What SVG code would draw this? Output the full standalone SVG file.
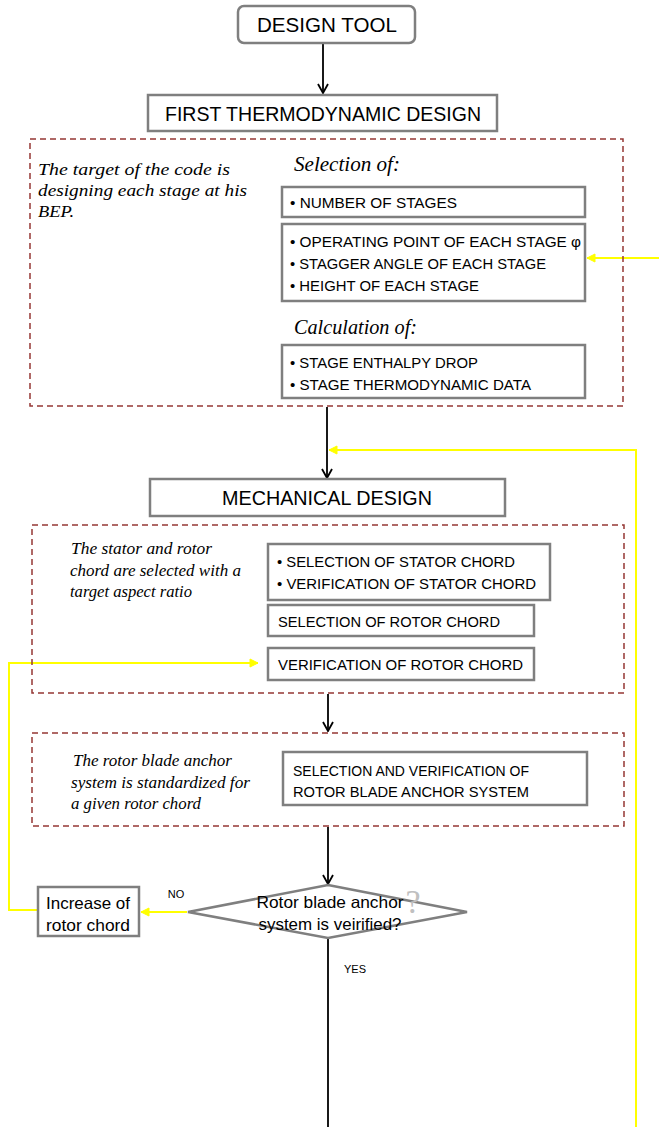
<svg xmlns="http://www.w3.org/2000/svg" width="659" height="1127" viewBox="0 0 659 1127">
<defs>
<style>
.box{fill:#fff;stroke:#7f7f7f;stroke-width:2.5}
.dash{fill:none;stroke:#953735;stroke-width:1.5;stroke-dasharray:6,4}
.t{font-family:"Liberation Sans",Arial,sans-serif;fill:#000}
.it{font-family:"Liberation Serif","Times New Roman",serif;font-style:italic;fill:#000}
.blk{fill:none;stroke:#000;stroke-width:1.8}
.yel{fill:none;stroke:#ffff00;stroke-width:2}
</style>
<marker id="ab" viewBox="0 0 12 12" refX="11" refY="6" markerWidth="12" markerHeight="12" markerUnits="userSpaceOnUse" orient="auto">
<path d="M2,1 L11,6 L2,11" fill="none" stroke="#000" stroke-width="1.8"/>
</marker>
<marker id="ay" viewBox="0 0 10 10" refX="9" refY="5" markerWidth="10" markerHeight="10" markerUnits="userSpaceOnUse" orient="auto">
<path d="M1,1 L9,5 L1,9 Z" fill="#ffff00" stroke="#ffff00" stroke-width="1"/>
</marker>
</defs>
<rect width="659" height="1127" fill="#fff"/>

<g id="connectors">
<line class="blk" x1="323" y1="43" x2="323" y2="93" marker-end="url(#ab)"/>
<line class="blk" x1="327" y1="407" x2="327" y2="478" marker-end="url(#ab)"/>
<line class="blk" x1="328" y1="694" x2="328" y2="731" marker-end="url(#ab)"/>
<line class="blk" x1="328" y1="827" x2="328" y2="884" marker-end="url(#ab)"/>
<line class="blk" x1="328" y1="938" x2="328" y2="1127"/>
<line class="yel" x1="659" y1="258" x2="587" y2="258" marker-end="url(#ay)"/>
<polyline class="yel" points="636,1127 636,450 329,450" marker-end="url(#ay)"/>
<polyline class="yel" points="38,910 9,910 9,663 258,663" marker-end="url(#ay)"/>
<line class="yel" x1="187" y1="912" x2="141" y2="912" marker-end="url(#ay)"/>
</g>

<g id="design-tool">
<rect class="box" x="238" y="6" width="177" height="37" rx="6"/>
<text class="t" x="327" y="32" font-size="21" text-anchor="middle" textLength="140" lengthAdjust="spacingAndGlyphs">DESIGN TOOL</text>
</g>

<g id="first-thermo">
<rect class="box" x="148" y="95" width="349" height="36"/>
<text class="t" x="323" y="121" font-size="21" text-anchor="middle" textLength="316" lengthAdjust="spacingAndGlyphs">FIRST THERMODYNAMIC DESIGN</text>
</g>

<g id="thermo-group">
<rect class="dash" x="30" y="139" width="593" height="267"/>
<text class="it" font-size="17.5"><tspan x="38" y="175" textLength="192" lengthAdjust="spacingAndGlyphs">The target of the code is</tspan><tspan x="38" y="196" textLength="209" lengthAdjust="spacingAndGlyphs">designing each stage at his</tspan><tspan x="38" y="217" textLength="36" lengthAdjust="spacingAndGlyphs">BEP.</tspan></text>
<text class="it" x="294" y="171" font-size="22" textLength="106" lengthAdjust="spacingAndGlyphs">Selection of:</text>
<text class="it" x="294" y="334" font-size="22" textLength="123" lengthAdjust="spacingAndGlyphs">Calculation of:</text>
</g>

<g id="num-stages">
<rect class="box" x="282" y="187" width="303" height="30"/>
<text class="t" x="290" y="208" font-size="15.5" textLength="167" lengthAdjust="spacingAndGlyphs">• NUMBER OF STAGES</text>
</g>

<g id="operating">
<rect class="box" x="282" y="224" width="303" height="77"/>
<text class="t" font-size="15.5"><tspan x="290" y="247" textLength="291" lengthAdjust="spacingAndGlyphs">• OPERATING POINT OF EACH STAGE φ</tspan><tspan x="290" y="269" textLength="256" lengthAdjust="spacingAndGlyphs">• STAGGER ANGLE OF EACH STAGE</tspan><tspan x="290" y="291" textLength="189" lengthAdjust="spacingAndGlyphs">• HEIGHT OF EACH STAGE</tspan></text>
</g>

<g id="calc">
<rect class="box" x="282" y="345" width="303" height="53"/>
<text class="t" font-size="15.5"><tspan x="290" y="368" textLength="188" lengthAdjust="spacingAndGlyphs">• STAGE ENTHALPY DROP</tspan><tspan x="290" y="390" textLength="241" lengthAdjust="spacingAndGlyphs">• STAGE THERMODYNAMIC DATA</tspan></text>
</g>

<g id="mechanical">
<rect class="box" x="150" y="479" width="355" height="37"/>
<text class="t" x="327" y="505" font-size="21" text-anchor="middle" textLength="210" lengthAdjust="spacingAndGlyphs">MECHANICAL DESIGN</text>
</g>

<g id="mech-group">
<rect class="dash" x="32" y="525" width="592" height="168"/>
<text class="it" font-size="17"><tspan x="71" y="554" textLength="141" lengthAdjust="spacingAndGlyphs">The stator and rotor</tspan><tspan x="70" y="576" textLength="171" lengthAdjust="spacingAndGlyphs">chord are selected with a</tspan><tspan x="70" y="597" textLength="122" lengthAdjust="spacingAndGlyphs">target aspect ratio</tspan></text>
</g>

<g id="stator">
<rect class="box" x="268" y="544" width="282" height="56"/>
<text class="t" font-size="15.5"><tspan x="277" y="567" textLength="238" lengthAdjust="spacingAndGlyphs">• SELECTION OF STATOR CHORD</tspan><tspan x="277" y="589" textLength="259" lengthAdjust="spacingAndGlyphs">• VERIFICATION OF STATOR CHORD</tspan></text>
</g>

<g id="sel-rotor">
<rect class="box" x="268" y="605" width="266" height="31"/>
<text class="t" x="278" y="627" font-size="15.5" textLength="222" lengthAdjust="spacingAndGlyphs">SELECTION OF ROTOR CHORD</text>
</g>

<g id="ver-rotor">
<rect class="box" x="268" y="648" width="266" height="32"/>
<text class="t" x="278" y="670" font-size="15.5" textLength="245" lengthAdjust="spacingAndGlyphs">VERIFICATION OF ROTOR CHORD</text>
</g>

<g id="anchor-group">
<rect class="dash" x="32" y="733" width="592" height="93"/>
<text class="it" font-size="17"><tspan x="73" y="766" textLength="159" lengthAdjust="spacingAndGlyphs">The rotor blade anchor</tspan><tspan x="71" y="788" textLength="179" lengthAdjust="spacingAndGlyphs">system is standardized for</tspan><tspan x="71" y="809" textLength="130" lengthAdjust="spacingAndGlyphs">a given rotor chord</tspan></text>
</g>

<g id="anchor">
<rect class="box" x="283" y="752" width="304" height="53"/>
<text class="t" font-size="15.5"><tspan x="293" y="776" textLength="236" lengthAdjust="spacingAndGlyphs">SELECTION AND VERIFICATION OF</tspan><tspan x="293" y="797" textLength="236" lengthAdjust="spacingAndGlyphs">ROTOR BLADE ANCHOR SYSTEM</tspan></text>
</g>

<g id="decision">
<polygon class="box" points="328,885 467,912 328,938 188,912"/>
<text class="t" font-size="16.5" text-anchor="middle"><tspan x="330" y="908" textLength="147" lengthAdjust="spacingAndGlyphs">Rotor blade anchor</tspan><tspan x="330" y="930" textLength="143" lengthAdjust="spacingAndGlyphs">system is veirified?</tspan></text>
<text x="413" y="913" font-family="Liberation Serif,serif" font-size="34" fill="#c0c0c0" text-anchor="middle">?</text>
<text class="t" x="176" y="898" font-size="11" text-anchor="middle">NO</text>
<text class="t" x="355" y="973" font-size="11" text-anchor="middle">YES</text>
</g>

<g id="increase">
<rect class="box" x="38" y="887" width="101" height="49"/>
<text class="t" font-size="16.5" text-anchor="middle"><tspan x="88" y="909" textLength="84" lengthAdjust="spacingAndGlyphs">Increase of</tspan><tspan x="88" y="931" textLength="84" lengthAdjust="spacingAndGlyphs">rotor chord</tspan></text>
</g>
</svg>
